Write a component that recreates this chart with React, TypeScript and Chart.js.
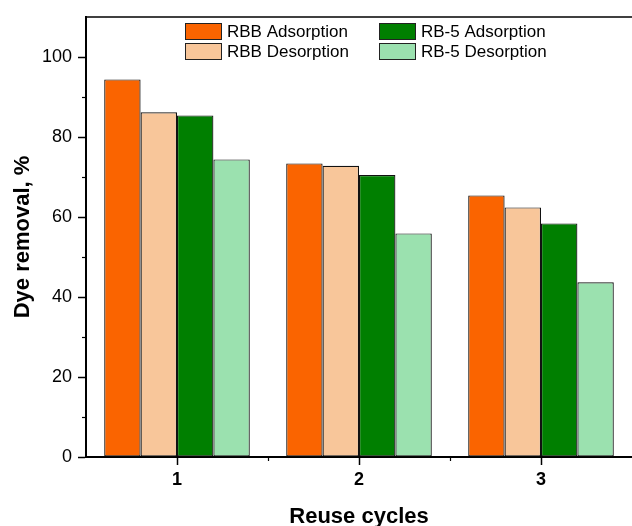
import React, { useEffect, useRef } from "react";
import { Chart, registerables } from "chart.js";

Chart.register(...registerables);

const cycles = ["1", "2", "3"];
const rbbAdsorption = [94.4, 73.4, 65.4];
const rbbDesorption = [86.2, 72.8, 62.4];
const rb5Adsorption = [85.4, 70.5, 58.4];
const rb5Desorption = [74.4, 55.9, 43.7];
const seriesLabels = ["RBB Adsorption", "RBB Desorption", "RB-5 Adsorption", "RB-5 Desorption"];
const seriesColors = ["#FA6400", "#F8C69A", "#007F00", "#9BE1AF"];
const minorYTicks = [10, 30, 50, 70, 90];

const FONT = "'Liberation Sans', Arial, sans-serif";

const extrasPlugin = {
  id: "extras",
  afterDraw(chart: any) {
    const { ctx, chartArea } = chart;
    const xs = chart.scales.x;
    const ys = chart.scales.y;
    ctx.save();
    ctx.strokeStyle = "#000";
    // top frame line
    ctx.lineWidth = 1.5;
    ctx.beginPath();
    ctx.moveTo(chartArea.left, chartArea.top);
    ctx.lineTo(chartArea.right, chartArea.top);
    ctx.stroke();
    // minor y ticks
    ctx.lineWidth = 1.2;
    minorYTicks.forEach((v) => {
      const y = Math.round(ys.getPixelForValue(v)) + 0.5;
      ctx.beginPath();
      ctx.moveTo(chartArea.left - 4, y);
      ctx.lineTo(chartArea.left, y);
      ctx.stroke();
    });
    // minor x ticks between categories
    for (let i = 0; i < cycles.length - 1; i++) {
      const x = Math.round((xs.getPixelForValue(i) + xs.getPixelForValue(i + 1)) / 2) + 0.5;
      ctx.beginPath();
      ctx.moveTo(x, chartArea.bottom);
      ctx.lineTo(x, chartArea.bottom + 4);
      ctx.stroke();
    }
    // legend (two columns)
    const cols = [99, 293];
    const rows = [6, 26];
    const order = [[0, 1], [2, 3]];
    ctx.font = `17px ${FONT}`;
    ctx.textBaseline = "middle";
    ctx.textAlign = "left";
    order.forEach((col, ci) => {
      col.forEach((di, ri) => {
        const bx = chartArea.left + cols[ci];
        const by = chartArea.top + rows[ri];
        ctx.fillStyle = seriesColors[di];
        ctx.fillRect(bx, by, 37, 17);
        ctx.lineWidth = 1;
        ctx.strokeStyle = "#222";
        ctx.strokeRect(bx + 0.5, by + 0.5, 36, 16);
        ctx.fillStyle = "#000";
        ctx.fillText(chart.data.datasets[di].label, bx + 42, by + 9);
      });
    });
    ctx.restore();
  },
};

export default function App() {
  const ref = useRef<HTMLCanvasElement | null>(null);
  useEffect(() => {
    if (!ref.current) return;
    const series = [rbbAdsorption, rbbDesorption, rb5Adsorption, rb5Desorption];
    const chart = new Chart(ref.current, {
      type: "bar",
      data: {
        labels: cycles,
        datasets: series.map((d, i) => ({
          label: seriesLabels[i],
          data: d,
          backgroundColor: seriesColors[i],
          borderColor: "#111",
          borderWidth: 1.2,
          borderSkipped: false,
          categoryPercentage: 0.8,
          barPercentage: 1.0,
        })),
      },
      options: {
        responsive: false,
        animation: false,
        devicePixelRatio: 1,
        layout: { padding: { top: 17, right: 0, left: 0, bottom: 0 } },
        plugins: { legend: { display: false }, tooltip: { enabled: false } },
        scales: {
          x: {
            type: "category",
            offset: true,
            grid: {
              display: true,
              drawOnChartArea: false,
              offset: false,
              tickLength: 8,
              tickColor: "#000",
              tickWidth: 1.5,
            },
            border: { display: true, color: "#000", width: 2 },
            ticks: {
              color: "#000",
              padding: 4,
              font: { family: FONT, size: 18, weight: "bold" },
            },
            title: {
              display: true,
              text: "Reuse cycles",
              color: "#000",
              font: { family: FONT, size: 22, weight: "bold", lineHeight: 0.85 },
              padding: { top: 0, bottom: 0 },
            },
            afterFit(scale: any) {
              scale.height = 69;
            },
          },
          y: {
            min: 0,
            max: 110,
            grid: {
              display: true,
              drawOnChartArea: false,
              tickLength: 8,
              tickColor: "#000",
              tickWidth: 1.5,
            },
            border: { display: true, color: "#000", width: 2 },
            ticks: {
              stepSize: 20,
              includeBounds: false,
              color: "#000",
              padding: 6,
              font: { family: FONT, size: 18 },
            },
            title: {
              display: true,
              text: "Dye removal, %",
              color: "#000",
              font: { family: FONT, size: 22, weight: "bold", lineHeight: 1.2 },
              padding: { top: 10, bottom: 0 },
            },
            afterFit(scale: any) {
              scale.width = 86;
            },
          },
        },
      },
      plugins: [extrasPlugin],
    } as any);
    return () => chart.destroy();
  }, []);
  return (
    <div style={{ position: "fixed", left: 0, top: 0, width: 632, height: 526, background: "#fff" }}>
      <canvas ref={ref} width={632} height={526} style={{ display: "block" }} />
    </div>
  );
}
